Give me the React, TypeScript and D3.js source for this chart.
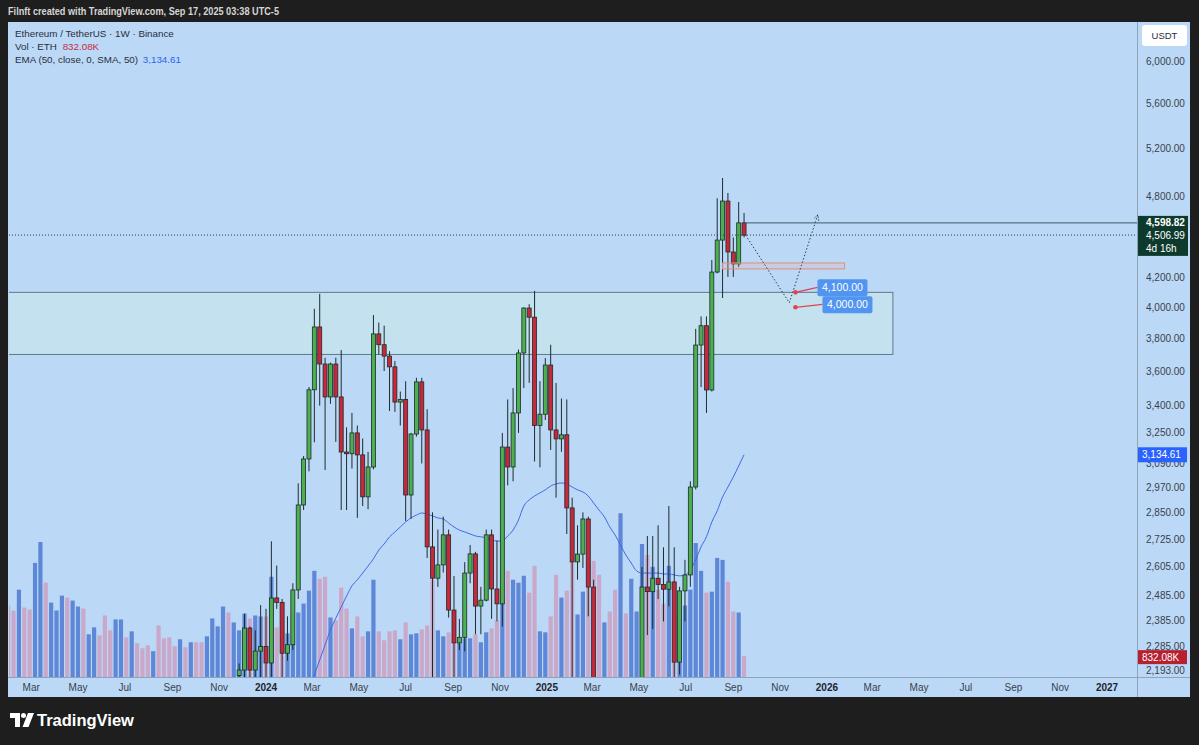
import React from 'react';
import * as d3 from 'd3';

// ---------- data ----------
const volumeStart = '2023-01-30';
const volumes = [
  2851, 2653, 3485, 2772, 2693, 4554, 5386, 3762, 2970, 2653, 3247, 3168, 3049, 2812, 2732, 1703, 1980, 1663, 2455, 1861,
  2297, 2297, 1584, 1822, 1346, 1148, 1267, 1030, 2059, 1544, 1584, 1228, 1505, 1188, 1386, 1386, 1386, 1624, 2336, 2020,
  2812, 2574, 2178, 1861, 2534, 2336, 2455, 2416, 2416, 4000, 1980, 1861, 1742, 2534, 2574, 2930, 3445, 4237, 3920, 4000,
  2376, 2257, 3564, 2732, 1940, 2416, 1624, 1822, 3881, 1822, 1465, 1822, 1861, 1505, 2178, 1703, 1742, 1901, 2059, 3881,
  1861, 1624, 1782, 1465, 1346, 1544, 1544, 1703, 1386, 1782, 1940, 2257, 3168, 4237, 3881, 3762, 4039, 3366, 4435, 1822,
  1782, 2416, 4079, 3168, 3445, 4594, 2495, 3406, 4554, 4633, 4079, 2178, 2614, 3485, 6534, 2534, 3920, 2614, 5306, 4871,
  4396, 3485, 2930, 4435, 3841, 2534, 2851, 3485, 5346, 4237, 3366, 3406, 4752, 4673, 3802, 2614, 2574, 832,
];
// direction of the volume bars before the first visible candle (u = up, d = down)
const earlyVolumeDir = 'ddudduuduuud' + 'uuduuddduudu' + 'ddduddddudud' + 'duuuudu';

const candleStart = '2023-11-27';
// [open, high, low, close]
const candles: [number, number, number, number][] = [
  [2176, 2220, 2000, 2196], [2196, 2410, 2160, 2354], [2354, 2360, 2150, 2196], [2196, 2345, 2130, 2266],
  [2266, 2445, 2170, 2283], [2283, 2430, 2100, 2222], [2222, 2717, 2165, 2474], [2474, 2610, 2430, 2456],
  [2456, 2470, 2165, 2258], [2258, 2400, 2230, 2290], [2290, 2535, 2270, 2507], [2507, 2990, 2470, 2885],
  [2885, 3128, 2861, 3113], [3113, 3506, 3050, 3490], [3490, 3990, 3200, 3872], [3872, 4090, 3400, 3642],
  [3642, 3680, 3057, 3449], [3449, 3650, 3410, 3642], [3642, 3680, 3202, 3449], [3449, 3727, 2861, 3149],
  [3149, 3280, 2861, 3140], [3140, 3359, 3064, 3250], [3250, 3290, 2824, 3134], [3134, 3220, 2880, 2924],
  [2924, 3150, 2865, 3072], [3072, 3949, 3060, 3828], [3828, 3900, 3700, 3760], [3760, 3880, 3600, 3690],
  [3690, 3720, 3370, 3625], [3625, 3660, 3365, 3420], [3420, 3480, 3290, 3435], [3435, 3540, 2810, 2933],
  [2933, 3250, 2820, 3244], [3244, 3560, 3230, 3536], [3536, 3560, 3090, 3266], [3266, 3380, 2643, 2692],
  [2692, 2850, 2110, 2556], [2556, 2770, 2520, 2613], [2613, 2830, 2580, 2746], [2746, 2770, 2395, 2425],
  [2425, 2565, 2150, 2297], [2297, 2390, 2270, 2318], [2318, 2625, 2265, 2578], [2578, 2700, 2535, 2661],
  [2661, 2670, 2330, 2441], [2441, 2520, 2330, 2465], [2465, 2770, 2460, 2746], [2746, 2770, 2390, 2511],
  [2511, 2720, 2380, 2450], [2450, 3250, 2360, 3175], [3175, 3435, 2980, 3072], [3072, 3500, 3000, 3359],
  [3359, 3730, 3250, 3709], [3709, 4000, 3500, 3995], [3995, 4020, 3530, 3935], [3935, 4110, 3100, 3290],
  [3290, 3540, 3070, 3352], [3352, 3678, 3320, 3636], [3636, 3760, 3160, 3266], [3266, 3530, 2920, 3218],
  [3218, 3440, 3150, 3240], [3240, 3435, 2750, 2871], [2871, 2920, 2120, 2626], [2626, 2790, 2550, 2660],
  [2660, 2850, 2600, 2819], [2819, 2830, 2400, 2519], [2519, 2550, 1990, 2010], [2010, 2100, 1760, 1980],
  [1980, 2100, 1860, 2080], [2080, 2100, 1780, 1820], [1820, 1955, 1540, 1580], [1580, 1690, 1385, 1620],
  [1620, 1690, 1560, 1580], [1580, 1830, 1540, 1790], [1790, 1870, 1740, 1810], [1810, 2604, 1750, 2519],
  [2519, 2741, 2327, 2500], [2500, 2741, 2350, 2556], [2556, 2790, 2470, 2530], [2530, 2690, 2380, 2510],
  [2510, 2880, 2440, 2540], [2540, 2690, 2110, 2225], [2225, 2520, 2180, 2503], [2503, 2635, 2380, 2570],
  [2570, 3000, 2520, 2972], [2972, 3860, 2960, 3758], [3758, 3940, 3506, 3880], [3880, 3940, 3359, 3489],
  [3489, 4325, 3480, 4240], [4240, 4790, 4230, 4470], [4470, 4953, 4062, 4768], [4768, 4832, 4206, 4383],
  [4383, 4490, 4206, 4297], [4297, 4760, 4275, 4599], [4599, 4675, 4490, 4507],
];

const emaStart = '2024-02-26';
const emaValues = [
  2125, 2178, 2233, 2289, 2347, 2393, 2437, 2482, 2524, 2549, 2578, 2608, 2639, 2678, 2705, 2737, 2759, 2782, 2805, 2824,
  2837, 2847, 2842, 2833, 2824, 2819, 2800, 2782, 2768, 2759, 2750, 2741, 2737, 2732, 2723, 2718, 2718, 2741, 2768, 2814,
  2880, 2909, 2928, 2943, 2958, 2977, 2987, 2992, 2987, 2972, 2958, 2948, 2928, 2894, 2861, 2829, 2782, 2745, 2700, 2656,
  2621, 2587, 2578, 2578, 2578, 2578, 2574, 2574, 2570, 2566, 2570, 2591, 2635, 2692, 2737, 2805, 2857, 2923, 2972, 3022,
  3077, 3135,
];

const priceTicks = [6000, 5600, 5200, 4800, 4200, 4000, 3800, 3600, 3400, 3250, 3090, 2970, 2850, 2725, 2605, 2485, 2385, 2285, 2193];
const timeTickDates = ['2023-03-01', '2023-05-01', '2023-07-01', '2023-09-01', '2023-11-01', '2024-01-01', '2024-03-01', '2024-05-01',
  '2024-07-01', '2024-09-01', '2024-11-01', '2025-01-01', '2025-03-01', '2025-05-01', '2025-07-01', '2025-09-01', '2025-11-01',
  '2026-01-01', '2026-03-01', '2026-05-01', '2026-07-01', '2026-09-01', '2026-11-01', '2027-01-01'];
const timeTickLabels = ['Mar', 'May', 'Jul', 'Sep', 'Nov', '2024', 'Mar', 'May', 'Jul', 'Sep', 'Nov', '2025', 'Mar', 'May', 'Jul',
  'Sep', 'Nov', '2026', 'Mar', 'May', 'Jul', 'Sep', 'Nov', '2027'];

const zoneLow = 3700, zoneHigh = 4100, zoneStart = '2022-06-01', zoneEnd = '2026-03-28';
const hLinePrice = 4598.82;
const lastPrice = 4506.99;
const emaLast = 3134.61;
const volLastLabel = '832.08K';
const orangeBox = { from: '2025-08-18', to: '2026-01-24', lo: 4262, hi: 4304 };
const projectionDates = ['2025-09-17', '2025-11-13', '2025-12-20'];
const projectionPrices = [4507, 4030, 4660];
const targetDate = '2025-11-21';
const targetPrices = [4100, 4000];
const targetLabels = ['4,100.00', '4,000.00'];

// ---------- layout ----------
const W = 1199, H = 745;
const L = 9, R = 1137, T = 22, B = 677;
const FONT = '"Liberation Sans", Arial, sans-serif';

const pd = (s: string) => new Date(s + 'T00:00:00Z');
const fmt = d3.format(',.2f');

export default function App() {
  const x = d3.scaleUtc().domain([pd('2024-01-01'), pd('2027-01-01')]).range([266, 1107]);
  const y = d3.scaleLog().domain([2171, 6410]).range([B, T]);
  const vMax = d3.max(volumes) as number;
  const yv = d3.scaleLinear().domain([0, vMax]).range([B, B - (B - T) * 0.25]);

  const vStart = pd(volumeStart);
  const cStart = pd(candleStart);
  const eStart = pd(emaStart);
  const wk = (s: Date, i: number) => d3.utcDay.offset(s, 7 * i);
  const candleOffset = earlyVolumeDir.length;

  const volIsUp = (i: number) => {
    if (i < candleOffset) return earlyVolumeDir[i] === 'u';
    const c = candles[i - candleOffset];
    return c ? c[3] >= c[0] : true;
  };

  const emaLine = d3.line<number>()
    .x((_, i) => x(wk(eStart, i)))
    .y((v) => y(v))
    .curve(d3.curveMonotoneX)(emaValues) as string;

  const projLine = d3.line<number>()
    .x((_, i) => x(pd(projectionDates[i])))
    .y((v) => y(v))(projectionPrices) as string;

  const up = '#4caf50', down = '#c8283a', edge = '#1d2b2b';
  const volUp = '#5e87d7', volDown = '#c9a8c9';
  const bg = '#bbd9f7';

  const lastX = x(wk(cStart, candles.length - 1));
  const p1 = [x(pd(projectionDates[1])), y(projectionPrices[1])];
  const p2 = [x(pd(projectionDates[2])), y(projectionPrices[2])];
  const ang = Math.atan2(p2[1] - p1[1], p2[0] - p1[0]);
  const ah = 6;
  const arrow = `M${p2[0] - ah * Math.cos(ang - 0.5)},${p2[1] - ah * Math.sin(ang - 0.5)} L${p2[0]},${p2[1]} L${p2[0] - ah * Math.cos(ang + 0.5)},${p2[1] - ah * Math.sin(ang + 0.5)}`;

  const tx = x(pd(targetDate));

  return (
    <svg width={W} height={H} style={{ position: 'absolute', left: 0, top: 0, fontFamily: FONT }}>
      <defs>
        <clipPath id="plot"><rect x={L} y={T} width={R - L} height={B - T} /></clipPath>
      </defs>
      <rect x={0} y={0} width={W} height={H} fill="#1e1e1e" />
      <rect x={8} y={T} width={1182} height={697 - T} fill={bg} />
      <text x={8} y={15} fill="#d6d6d6" fontSize={10} fontWeight="bold" textLength={271} lengthAdjust="spacingAndGlyphs">
        Filnft created with TradingView.com, Sep 17, 2025 03:38 UTC-5
      </text>

      <g clipPath="url(#plot)">
        {/* zone */}
        <rect x={x(pd(zoneStart))} y={y(zoneHigh)} width={x(pd(zoneEnd)) - x(pd(zoneStart))} height={y(zoneLow) - y(zoneHigh)}
          fill="#c3e1ee" stroke="#5d7a88" strokeWidth={1} />
        {/* volume */}
        {volumes.map((v, i) => {
          const cx = x(wk(vStart, i));
          return <rect key={'v' + i} x={cx - 2.1} y={yv(v)} width={4.2} height={B - yv(v)}
            fill={volIsUp(i) ? volUp : volDown} />;
        })}
        {/* EMA */}
        <path d={emaLine} fill="none" stroke="#4169e6" strokeWidth={1} />
        {/* candles */}
        {candles.map(([o, h, l, c], i) => {
          const cx = x(wk(cStart, i));
          const top = y(Math.max(o, c)), bot = y(Math.min(o, c));
          return (
            <g key={'c' + i}>
              <line x1={cx} x2={cx} y1={y(h)} y2={y(l)} stroke={edge} strokeWidth={1} />
              <rect x={cx - 2} y={top} width={4} height={Math.max(bot - top, 1)} fill={c >= o ? up : down} stroke={edge} strokeWidth={0.8} />
            </g>
          );
        })}
        {/* lines */}
        <line x1={L} x2={R} y1={y(lastPrice)} y2={y(lastPrice)} stroke="#2b3d4d" strokeWidth={1} strokeDasharray="1,2" />
        <line x1={lastX + 2} x2={R} y1={y(hLinePrice)} y2={y(hLinePrice)} stroke="#3f5868" strokeWidth={1} />
        <rect x={x(pd(orangeBox.from))} y={y(orangeBox.hi)} width={x(pd(orangeBox.to)) - x(pd(orangeBox.from))}
          height={y(orangeBox.lo) - y(orangeBox.hi)} fill="rgba(240,170,150,0.25)" stroke="#de8f7f" strokeWidth={1} />
        <path d={projLine} fill="none" stroke="#2b3d4d" strokeWidth={1} strokeDasharray="1.5,2" />
        <path d={arrow} fill="none" stroke="#2b3d4d" strokeWidth={1} strokeDasharray="1.5,1.5" />
        {targetPrices.map((p, i) => {
          const py = y(p);
          const bx = tx + (i === 0 ? 22 : 27);
          const by = py + (i === 0 ? -13 : -11);
          return (
            <g key={'t' + i}>
              <line x1={tx} y1={py} x2={bx} y2={by + 8} stroke="#e0454f" strokeWidth={1.2} />
              <rect x={bx} y={by} width={50} height={17} rx={2} fill="#5295f0" />
              <text x={bx + 25} y={by + 12} textAnchor="middle" fill="#ffffff" fontSize={10.5}>{targetLabels[i]}</text>
              <circle cx={tx} cy={py} r={2.3} fill="#e0454f" />
            </g>
          );
        })}
      </g>

      {/* legend */}
      <g fontSize={9.8} fill="#2a2e39">
        <text x={15} y={37}>Ethereum / TetherUS · 1W · Binance</text>
        <text x={15} y={50}>Vol · ETH <tspan fill="#c42d3d" dx={3}>{volLastLabel}</tspan></text>
        <text x={15} y={63}>EMA (50, close, 0, SMA, 50) <tspan fill="#2f63f0" dx={2}>{fmt(emaLast)}</tspan></text>
      </g>

      {/* axes separators */}
      <line x1={R + 0.5} x2={R + 0.5} y1={T} y2={697} stroke="#8ea4b6" strokeWidth={1} />
      <line x1={8} x2={1190} y1={B + 0.5} y2={B + 0.5} stroke="#8ea4b6" strokeWidth={1} />

      {/* price axis */}
      <rect x={1142} y={25} width={45} height={21} rx={3} fill="#ffffff" />
      <text x={1164.5} y={39} textAnchor="middle" fontSize={9.5} fill="#2a2e39">USDT</text>
      {priceTicks.map((p) => (
        <text key={'p' + p} x={1146} y={y(p) + 3.5} fontSize={10} fill="#3a3f4a">{fmt(p)}</text>
      ))}
      <rect x={1138} y={y(hLinePrice) - 7} width={50} height={40} fill="#0d3a2c" />
      <text x={1146} y={y(hLinePrice) + 3.5} fontSize={10} fill="#ffffff" fontWeight="bold">{fmt(hLinePrice)}</text>
      <text x={1146} y={y(lastPrice) + 3.5} fontSize={10} fill="#ffffff">{fmt(lastPrice)}</text>
      <text x={1146} y={y(lastPrice) + 16.5} fontSize={10} fill="#ffffff">4d 16h</text>
      <rect x={1138} y={y(emaLast) - 7.5} width={49} height={15} fill="#2962ff" />
      <text x={1142} y={y(emaLast) + 3.5} fontSize={10} fill="#ffffff">{fmt(emaLast)}</text>
      <rect x={1138} y={yv(volumes[volumes.length - 1]) - 6} width={49} height={14} fill="#b8202f" />
      <text x={1142} y={yv(volumes[volumes.length - 1]) + 4.5} fontSize={10} fill="#ffffff">{volLastLabel}</text>

      {/* time axis */}
      {timeTickDates.map((d, i) => {
        const yr = /^\d{4}$/.test(timeTickLabels[i]);
        return (
          <text key={'t' + d} x={x(pd(d))} y={691} textAnchor="middle" fontSize={10}
            fill={yr ? '#1f232c' : '#3a3f4a'} fontWeight={yr ? 'bold' : 'normal'}>{timeTickLabels[i]}</text>
        );
      })}

      {/* footer logo */}
      <g fill="#ffffff">
        <path d="M10 713 h10 v14 h-5 v-9 h-5 z" />
        <circle cx={23.5} cy={715.5} r={2.5} />
        <path d="M28 713 h6 l-5.5 14 h-6 z" />
        <text x={37} y={726} fontSize={16.5} fontWeight="bold">TradingView</text>
      </g>
    </svg>
  );
}
